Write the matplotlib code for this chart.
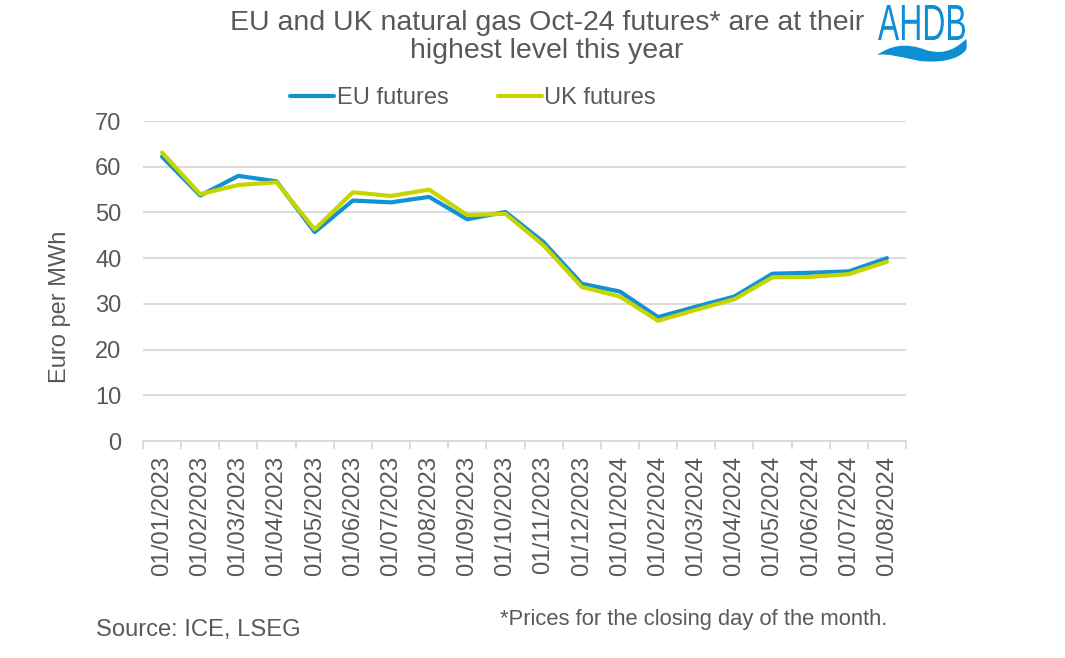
import matplotlib
matplotlib.use("Agg")
import matplotlib.pyplot as plt
from matplotlib.textpath import TextPath
from matplotlib.patches import PathPatch
from matplotlib.path import Path
from matplotlib.font_manager import FontProperties
from matplotlib.transforms import Affine2D
import numpy as np

plt.rcParams['font.family'] = ['Liberation Sans', 'DejaVu Sans']

dates = ["01/01/2023", "01/02/2023", "01/03/2023", "01/04/2023", "01/05/2023",
         "01/06/2023", "01/07/2023", "01/08/2023", "01/09/2023", "01/10/2023",
         "01/11/2023", "01/12/2023", "01/01/2024", "01/02/2024", "01/03/2024",
         "01/04/2024", "01/05/2024", "01/06/2024", "01/07/2024", "01/08/2024"]
eu_futures = [62.2, 53.7, 58.0, 56.8, 45.7, 52.6, 52.2, 53.4, 48.5, 50.1,
              43.5, 34.4, 32.7, 27.1, 29.4, 31.6, 36.6, 36.8, 37.1, 40.0]
uk_futures = [63.1, 54.0, 56.0, 56.6, 46.3, 54.4, 53.6, 55.0, 49.4, 49.7,
              42.8, 33.7, 31.6, 26.3, 28.7, 31.0, 35.8, 35.9, 36.5, 39.2]

W, H = 1065, 658
fig = plt.figure(figsize=(W / 100, H / 100), dpi=100)
grey = '#595959'
blue = '#1192D2'
lime = '#C8D400'

ax = fig.add_axes([143 / W, (H - 441) / H, (906 - 143) / W, (441 - 121) / H])
x = np.arange(len(dates))
ax.plot(x, eu_futures, color=blue, lw=3.0, label='EU futures', solid_capstyle='round', zorder=3)
ax.plot(x, uk_futures, color=lime, lw=3.0, label='UK futures', solid_capstyle='round', zorder=4)

ax.set_xlim(-0.5, len(dates) - 0.5)
ax.set_ylim(0, 70)
ax.set_yticks(np.arange(0, 71, 10))
ax.yaxis.grid(True, color='#D9D9D9', lw=1.3)
ax.set_axisbelow(True)
for s in ['top', 'right', 'left']:
    ax.spines[s].set_visible(False)
ax.spines['bottom'].set_color('#D9D9D9')
ax.spines['bottom'].set_linewidth(1.3)
ax.tick_params(axis='y', length=0, labelsize=17, labelcolor=grey, pad=15.5)
ax.set_xticks(x)
ax.set_xticklabels(dates, rotation=90)
ax.tick_params(axis='x', which='major', length=0, labelsize=17.3, labelcolor=grey, pad=10.5)
ax.set_xticks(np.arange(-0.5, len(dates), 1.0), minor=True)
ax.tick_params(axis='x', which='minor', length=6, color='#D9D9D9', width=1.3)

ax.set_ylabel('Euro per MWh', fontsize=17, color=grey)
ax.yaxis.set_label_coords(71 / W, 1 - 307 / H, transform=fig.transFigure)

fig.text(547 / W, 1 - 37 / H, 'EU and UK natural gas Oct-24 futures* are at their\nhighest level this year',
         ha='center', va='center', fontsize=20.5, color=grey, linespacing=1.08)

leg = fig.legend(loc='center', bbox_to_anchor=(473 / W, 1 - 98 / H), ncol=2, frameon=False,
                 fontsize=17, handlelength=1.85, handletextpad=0.1, columnspacing=2.1,
                 labelcolor=grey)

fig.text(96 / W, 1 - 630 / H, 'Source: ICE, LSEG', ha='left', va='center', fontsize=17.1, color=grey)
fig.text(887 / W, 1 - 620 / H, '*Prices for the closing day of the month.', ha='right', va='center',
         fontsize=15.8, color=grey)

# AHDB logo
logo_col = '#0E8ED3'
tp = TextPath((0, 0), 'AHDB', size=1, prop=FontProperties(family='Liberation Sans'))
ext = tp.get_extents()
x0, x1, ytop, ybot = 878, 965, 5, 40
sx = (x1 - x0) / ext.width
sy = (ybot - ytop) / ext.height
tr = Affine2D().translate(-ext.x0, -ext.y0).scale(sx, sy).translate(x0, H - ybot)
patch = PathPatch(tr.transform_path(tp), color=logo_col, lw=0, transform=None)
fig.patches.append(patch)

def P(px, py):
    return (px, H - py)

verts = [P(877, 55),
         P(890, 46), P(905, 42), P(926, 50),
         P(945, 56), P(958, 47), P(966, 39),
         P(967, 42), P(967, 46), P(966, 50),
         P(958, 60), P(940, 63), P(920, 61),
         P(900, 57), P(887, 53), P(877, 55),
         P(877, 55)]
codes = [Path.MOVETO,
         Path.CURVE4, Path.CURVE4, Path.CURVE4,
         Path.CURVE4, Path.CURVE4, Path.CURVE4,
         Path.CURVE4, Path.CURVE4, Path.CURVE4,
         Path.CURVE4, Path.CURVE4, Path.CURVE4,
         Path.CURVE4, Path.CURVE4, Path.CURVE4,
         Path.CLOSEPOLY]
wave = PathPatch(Path(verts, codes), color=logo_col, lw=0, transform=None)
fig.patches.append(wave)

fig.savefig('out.png', dpi=100)
